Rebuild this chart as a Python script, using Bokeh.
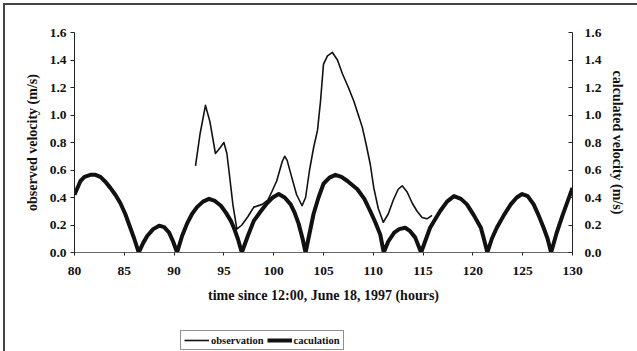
from bokeh.plotting import figure
from bokeh.layouts import column
from bokeh.models import (Range1d, LinearAxis, FixedTicker, NumeralTickFormatter,
                          Legend, LegendItem)
from bokeh.embed import file_html
from bokeh.resources import INLINE

# observed current velocity (m/s) against hours since 12:00, June 18, 1997
obs_time = [92.15, 92.6, 93.15, 93.6, 94.15, 94.6, 95.0, 95.3, 95.5, 95.9, 96.3,
            96.8, 97.4, 98.0, 98.85, 99.4, 99.8, 100.3, 100.85, 101.1, 101.35,
            101.8, 102.3, 102.85, 103.2, 103.6, 104.0, 104.4, 104.7, 105.0,
            105.4, 105.9, 106.4, 106.9, 107.5, 108.05, 108.5, 108.9, 109.3,
            109.7, 110.05, 110.5, 111.0, 111.5, 112.0, 112.5, 112.9, 113.4,
            113.9, 114.4, 114.9, 115.4, 115.9]
obs_vel = [0.63, 0.86, 1.07, 0.95, 0.72, 0.76, 0.80, 0.72, 0.60, 0.35, 0.17,
           0.20, 0.26, 0.33, 0.35, 0.38, 0.44, 0.52, 0.66, 0.70, 0.67,
           0.55, 0.42, 0.34, 0.40, 0.60, 0.76, 0.89, 1.10, 1.37,
           1.43, 1.455, 1.40, 1.30, 1.20, 1.10, 1.00, 0.91, 0.78,
           0.64, 0.47, 0.32, 0.22, 0.28, 0.38, 0.46, 0.485, 0.44,
           0.36, 0.30, 0.255, 0.245, 0.27]

# modelled current velocity (m/s)
calc_time = [80.0, 80.6, 81.0, 81.6, 82.1, 82.6, 83.1, 83.6, 84.1, 84.6, 85.1,
             85.6, 86.0, 86.45, 86.9, 87.3, 87.9, 88.5, 89.0, 89.5, 89.9, 90.3,
             90.8, 91.3, 91.8, 92.3, 92.9, 93.5, 94.1, 94.7, 95.2, 95.7, 96.0,
             96.4, 96.8, 97.4, 98.0, 98.7, 99.35, 99.9, 100.5, 101.1, 101.7,
             102.1, 102.5, 102.9, 103.2, 103.6, 104.0, 104.5, 105.0, 105.6,
             106.2, 106.8, 107.4, 108.4, 109.1, 109.7, 110.2, 110.7, 111.05,
             111.5, 112.1, 112.6, 113.2, 113.7, 114.2, 114.8, 115.2, 115.7,
             116.2, 116.7, 117.4, 118.1, 118.8, 119.4, 120.1, 120.8, 121.1,
             121.45, 121.9, 122.4, 123.1, 123.8, 124.4, 124.95, 125.5, 126.1,
             126.6, 127.1, 127.5, 127.85, 128.4, 129.0, 129.5, 130.0]
calc_vel = [0.42, 0.52, 0.55, 0.565, 0.565, 0.55, 0.515, 0.47, 0.42, 0.36, 0.28,
            0.18, 0.10, 0.00, 0.07, 0.12, 0.17, 0.195, 0.185, 0.145, 0.08, 0.00,
            0.12, 0.21, 0.28, 0.33, 0.37, 0.39, 0.375, 0.34, 0.29, 0.23, 0.18,
            0.10, 0.00, 0.12, 0.23, 0.30, 0.36, 0.40, 0.425, 0.40, 0.35,
            0.29, 0.21, 0.10, 0.00, 0.14, 0.28, 0.40, 0.50, 0.545,
            0.565, 0.55, 0.52, 0.46, 0.39, 0.30, 0.22, 0.13, 0.00,
            0.08, 0.145, 0.17, 0.18, 0.155, 0.11, 0.00, 0.08, 0.18,
            0.24, 0.30, 0.37, 0.41, 0.39, 0.35, 0.27, 0.18, 0.10,
            0.00, 0.10, 0.18, 0.27, 0.35, 0.40, 0.425, 0.41, 0.35,
            0.27, 0.18, 0.10, 0.00, 0.14, 0.27, 0.37, 0.47]

x_ticks = [80, 85, 90, 95, 100, 105, 110, 115, 120, 125, 130]
y_ticks = [0.0, 0.2, 0.4, 0.6, 0.8, 1.0, 1.2, 1.4, 1.6]
series_names = ["observation", "caculation"]

SERIF = "Liberation Serif"
INK = "#111111"

# main chart: frame from x=74..572, y=32..252 on the page
p = figure(width=630, height=323, output_backend="svg", toolbar_location=None,
           x_range=Range1d(80, 130), y_range=Range1d(0, 1.6),
           min_border_left=69, min_border_right=63, min_border_top=27,
           min_border_bottom=76)
p.outline_line_color = None
p.xgrid.visible = False
p.ygrid.visible = False
p.extra_y_ranges = {"calc": Range1d(0, 1.6)}

def style_axis(ax, ticks):
    ax.ticker = FixedTicker(ticks=ticks)
    ax.minor_tick_line_color = None
    ax.major_label_text_font = SERIF
    ax.major_label_text_font_style = "bold"
    ax.major_label_text_font_size = "13.5px"
    ax.major_label_text_color = INK
    ax.axis_label_text_font = SERIF
    ax.axis_label_text_font_style = "bold"
    ax.axis_label_text_font_size = "14px"
    ax.axis_label_text_color = INK
    ax.axis_line_color = "#222222"
    ax.major_tick_line_color = "#222222"

xa = p.xaxis[0]
xa.axis_label = "time since 12:00, June 18, 1997 (hours)"
style_axis(xa, x_ticks)
xa.major_tick_out = 3
xa.major_tick_in = 0
xa.major_label_standoff = 11
xa.axis_label_standoff = 10
xa.axis_line_color = "#666666"

ya = p.yaxis[0]
ya.axis_label = "observed velocity (m/s)"
style_axis(ya, y_ticks)
ya.formatter = NumeralTickFormatter(format="0.0")
ya.major_tick_out = 4
ya.major_tick_in = 0
ya.major_label_standoff = 4
ya.axis_label_standoff = 7

ra = LinearAxis(y_range_name="calc", axis_label="calculated velocity (m/s)")
style_axis(ra, y_ticks)
ra.formatter = NumeralTickFormatter(format="0.0")
ra.major_tick_out = 0
ra.major_tick_in = 4
ra.major_label_standoff = 12
ra.axis_label_standoff = 6
p.add_layout(ra, "right")

p.line(obs_time, obs_vel, line_color=INK, line_width=1.6, line_join="round")
p.line(calc_time, calc_vel, line_color=INK, line_width=4, line_join="round",
       y_range_name="calc")

# legend strip underneath the chart (its frame lines up with the chart's)
lg = figure(width=630, height=23, output_backend="svg", toolbar_location=None,
            x_range=Range1d(0, 1), y_range=Range1d(0, 1),
            x_axis_location=None, y_axis_location=None,
            min_border_left=0, min_border_right=0, min_border_top=0,
            min_border_bottom=0)
lg.outline_line_color = None
lg.xgrid.visible = False
lg.ygrid.visible = False
k_obs = lg.line([5, 6], [5, 6], line_color=INK, line_width=1.6)
k_calc = lg.line([5, 6], [5, 6], line_color=INK, line_width=4)

legend = Legend(items=[LegendItem(label=series_names[0], renderers=[k_obs]),
                       LegendItem(label=series_names[1], renderers=[k_calc])],
                orientation="horizontal", location=(106, 1),
                label_text_font=SERIF, label_text_font_style="bold",
                label_text_font_size="10.5px", label_text_color=INK,
                label_standoff=2, glyph_width=25, glyph_height=12,
                spacing=3, padding=3, margin=0,
                border_line_color="#222222", border_line_width=1,
                background_fill_color="white", background_fill_alpha=1)
lg.add_layout(legend, "center")

page = column(p, lg, spacing=0)
page.margin = (3, 0, 0, 3)
page.styles = {"border-top": "2px solid #444", "border-left": "2px solid #444",
               "width": "634px"}

open("out.html", "w").write(file_html(page, INLINE))
